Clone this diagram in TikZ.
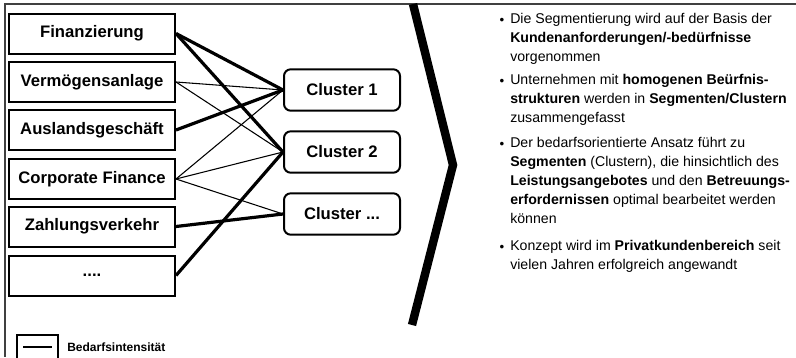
\documentclass[tikz,border=0pt]{standalone}
\usepackage{fontspec}
\setmainfont{Liberation Sans}
\begin{document}
\begin{tikzpicture}[x=0.75pt, y=-0.75pt,
    field/.style={draw, line width=1.5pt, minimum width=124.5pt, minimum height=30pt, inner sep=0pt, font=\fontsize{12.5}{14}\selectfont\bfseries},
    cluster/.style={field, rounded corners=5pt, minimum width=87pt, minimum height=31pt},
    strong/.style={line width=2.4pt},
    weak/.style={line width=0.8pt},
    bullet/.style={inner sep=0pt, font=\fontsize{10}{10}\selectfont},
    para/.style={anchor=north west, inner sep=0pt, align=left, font=\fontsize{10.6}{14.25}\selectfont}]
    \useasboundingbox (0,0) rectangle (796,357);
    \draw[line width=1pt, black!75] (796,4) -- (5,4) -- (5,357);

    % fields
    \node[field] (fin) at (92,33.5) {Finanzierung};
    \node[field] (verm) at (92,82) {Vermögensanlage};
    \node[field] (ausl) at (92,130) {Auslandsgeschäft};
    \node[field] (corp) at (92,179) {Corporate Finance};
    \node[field] (zahl) at (92,226.5) {Zahlungsverkehr};
    \node[field] (more) at (92,275.5) {....};

    % clusters
    \node[cluster] (c1) at (342,90) {Cluster 1};
    \node[cluster] (c2) at (342,152) {Cluster 2};
    \node[cluster] (cx) at (342,214) {Cluster ...};

    \draw[strong] (fin.east) -- (c1.west);
    \draw[strong] (fin.east) -- (c2.west);
    \draw[weak] (verm.east) -- (c1.west);
    \draw[weak] (verm.east) -- (c2.west);
    \draw[strong] (ausl.east) -- (c1.west);
    \draw[weak] (corp.east) -- (c1.west);
    \draw[weak] (corp.east) -- (c2.west);
    \draw[weak] (corp.east) -- (cx.west);
    \draw[strong] (zahl.east) -- (cx.west);
    \draw[strong] (more.east) -- (c2.west);

    % chevron
    \coordinate (top) at (413,4);
    \coordinate (tip) at (453,165);
    \coordinate (bot) at (412,325);
    \draw[line width=6.3pt] (top) -- (tip) -- (bot);

    % text
    \node[bullet] (b1) at (502,21) {•};
    \node[para] (p1) at (510,13) {Die Segmentierung wird auf der Basis der\\
      \textbf{Kundenanforderungen/-bedürfnisse}\\
      vorgenommen};
    \node[bullet] (b2) at (502,82) {•};
    \node[para] (p2) at (510,74) {Unternehmen mit \textbf{homogenen Beürfnis-}\\
      \textbf{strukturen} werden in \textbf{Segmenten/Clustern}\\
      zusammengefasst};
    \node[bullet] (b3) at (502,145) {•};
    \node[para] (p3) at (510,137) {Der bedarfsorientierte Ansatz führt zu\\
      \textbf{Segmenten} (Clustern), die hinsichtlich des\\
      \textbf{Leistungsangebotes} und den \textbf{Betreuungs-}\\
      \textbf{erfordernissen} optimal bearbeitet werden\\
      können};
    \node[bullet] (b4) at (502,248) {•};
    \node[para] (p4) at (510,240) {Konzept wird im \textbf{Privatkundenbereich} seit\\
      vielen Jahren erfolgreich angewandt};

    % legend
    \node[draw, line width=1pt, minimum width=30.75pt, minimum height=18pt, inner sep=0pt] (legbox) at (37.5,347) {};
    \draw[weak] ([xshift=5pt]legbox.west) -- ([xshift=-5pt]legbox.east);
    \node[anchor=west, inner sep=0pt, font=\fontsize{9}{10}\selectfont\bfseries] (legtext) at (67,347) {Bedarfsintensität};
\end{tikzpicture}
\end{document}
